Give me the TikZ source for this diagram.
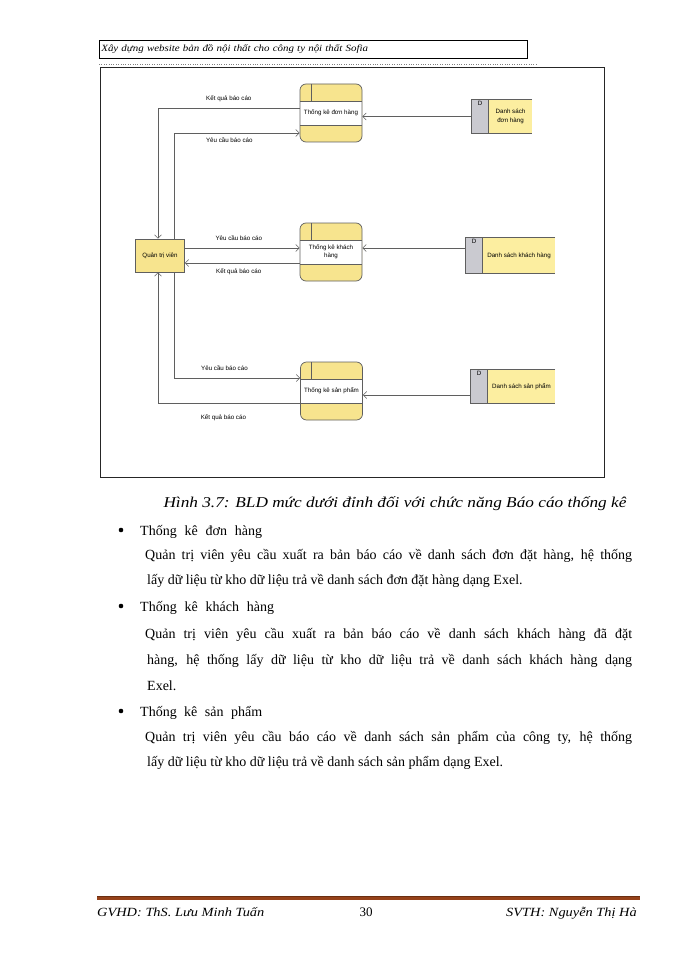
\documentclass[tikz,border=0pt]{standalone}
\usepackage{fontspec}
\setmainfont{Liberation Serif}
\newfontfamily\widefont[FakeStretch=1.15]{Liberation Serif}
\newfontfamily\diagfont{Liberation Sans}
\usetikzlibrary{positioning,arrows.meta}

\definecolor{procfill}{RGB}{247,228,142}
\definecolor{storefill}{RGB}{252,238,160}
\definecolor{tagfill}{RGB}{202,202,208}
\definecolor{linegray}{RGB}{95,95,95}
\definecolor{footbrown}{RGB}{150,66,26}

\begin{document}
\begin{tikzpicture}[x=1pt, y=-1pt,
    dfont/.style={font=\diagfont\fontsize{6.2}{7.5}\selectfont},
    proc/.style={draw=linegray, line width=0.7pt, rounded corners=6pt, fill=procfill,
        minimum width=62pt, minimum height=58pt, inner sep=1pt, align=center, dfont,
        path picture={
            \fill[white, sharp corners] ([yshift=12pt]path picture bounding box.west) rectangle ([yshift=-12pt]path picture bounding box.east);
            \draw[linegray, sharp corners, line width=0.6pt] ([yshift=12pt]path picture bounding box.west) -- ([yshift=12pt]path picture bounding box.east);
            \draw[linegray, sharp corners, line width=0.6pt] ([yshift=-12pt]path picture bounding box.west) -- ([yshift=-12pt]path picture bounding box.east);
            \draw[linegray, sharp corners, line width=0.6pt] ([xshift=11pt]path picture bounding box.north west) -- ([xshift=11pt,yshift=12pt]path picture bounding box.west);
        }},
    entity/.style={draw=linegray, line width=0.6pt, fill=procfill, minimum width=49pt, minimum height=33pt, inner sep=1pt, dfont},
    dstore/.style={fill=storefill, inner sep=1pt, align=center, dfont},
    dtag/.style={fill=tagfill, minimum width=17pt, inner sep=0pt, label={[dfont, anchor=north, inner sep=1.5pt]north:D}},
    storeline/.style={draw=linegray, line width=0.7pt},
    flow/.style={draw=linegray, line width=0.6pt, -{Straight Barb[length=3.5pt,width=7pt]}},
    lbl/.style={dfont, inner sep=1pt},
    txt/.style={anchor=base west, inner sep=0pt, font=\fontsize{14}{16}\selectfont},
    dot/.style={circle, fill=black, inner sep=0pt, minimum size=4.6pt}]

\useasboundingbox (0,0) rectangle (700,960);

\node[draw, line width=0.7pt, anchor=north west, minimum height=18pt, inner sep=2pt, text width=424pt,
    font=\widefont\itshape\fontsize{9.5}{11}\selectfont] (header) at (99,40) {Xây dựng website bản đồ nội thất cho công ty nội thất Sofia};
\draw[gray, dotted] (99,64) -- (537,64);
\draw[black!85, line width=0.8pt] (100,67) rectangle (604,477);

\node[entity] (qtv) at (160,255.5) {Quản trị viên};
\node[proc] (tkdon) at (331,113) {Thống kê đơn hàng};
\node[proc] (tkkhach) at (331,252) {Thống kê khách\\[1pt]hàng};
\node[proc] (tksp) at (331.5,391) {Thống kê sản phẩm};

\node[dstore, minimum width=43pt, minimum height=33pt] (dsdon) at (510.5,116.5) {Danh sách\\[1pt]đơn hàng};
\node[dtag, minimum height=33pt, left=0pt of dsdon] (ddon) {};
\node[dstore, minimum width=72pt, minimum height=35pt] (dskhach) at (519,255.5) {Danh sách khách hàng};
\node[dtag, minimum height=35pt, left=0pt of dskhach] (ddkhach) {};
\node[dstore, minimum width=67pt, minimum height=33pt] (dssp) at (521.5,386.5) {Danh sách sản phẩm};
\node[dtag, minimum height=33pt, left=0pt of dssp] (ddsp) {};
\draw[storeline] (dsdon.north east) -- (ddon.north west) -- (ddon.south west) -- (dsdon.south east);
\draw[storeline] (ddon.north east) -- (ddon.south east);
\draw[storeline] (dskhach.north east) -- (ddkhach.north west) -- (ddkhach.south west) -- (dskhach.south east);
\draw[storeline] (ddkhach.north east) -- (ddkhach.south east);
\draw[storeline] (dssp.north east) -- (ddsp.north west) -- (ddsp.south west) -- (dssp.south east);
\draw[storeline] (ddsp.north east) -- (ddsp.south east);

\coordinate (xk) at (158,0);
\coordinate (xy) at (174,0);
\coordinate (y1) at (0,108);
\coordinate (y2) at (0,133);
\coordinate (y3) at (0,248);
\coordinate (y4) at (0,263);
\coordinate (y5) at (0,378);
\coordinate (y6) at (0,403);
\coordinate (ys2) at (0,395);

\draw[flow] (tkdon.west |- y1) -| node[lbl, above=5pt, pos=0.25] (kq1) {Kết quả báo cáo} (qtv.north -| xk);
\draw[flow] (qtv.north -| xy) |- node[lbl, below=3pt, pos=0.72] (yc1) {Yêu cầu báo cáo} (tkdon.west |- y2);
\draw[flow] (qtv.east |- y3) -- node[lbl, above=6pt, pos=0.47] (yc2) {Yêu cầu báo cáo} (tkkhach.west |- y3);
\draw[flow] (tkkhach.west |- y4) -- node[lbl, below=4pt, pos=0.53] (kq2) {Kết quả báo cáo} (qtv.east |- y4);
\draw[flow] (qtv.south -| xy) |- node[lbl, above=6pt, pos=0.7] (yc3) {Yêu cầu báo cáo} (tksp.west |- y5);
\draw[flow] (tksp.west |- y6) -| node[lbl, below=10pt, pos=0.27] (kq3) {Kết quả báo cáo} (qtv.south -| xk);

\draw[flow] (ddon.west) -- (tkdon.east |- ddon.west);
\draw[flow] (ddkhach.west |- y3) -- (tkkhach.east |- y3);
\draw[flow] (ddsp.west |- ys2) -- (tksp.east |- ys2);

\node[anchor=base, inner sep=0pt, font=\widefont\itshape\fontsize{15}{17}\selectfont] (caption) at (395,507) {Hình 3.7: BLD mức dưới đỉnh đối với chức năng Báo cáo thống kê};

\node[dot] (b1) at (121,530) {};
\node[txt] (h1) at (140,535) {\makebox[122pt][s]{Thống kê đơn hàng}};
\node[txt] (p1) at (145,559) {\makebox[487pt][s]{Quản trị viên yêu cầu xuất ra bản báo cáo về danh sách đơn đặt hàng, hệ thống}};
\node[txt] (p2) at (147,584) {lấy dữ liệu từ kho dữ liệu trả về danh sách đơn đặt hàng dạng Exel.};
\node[dot] (b2) at (121,606) {};
\node[txt] (h2) at (140,611) {\makebox[134pt][s]{Thống kê khách hàng}};
\node[txt] (p3) at (145,638) {\makebox[487pt][s]{Quản trị viên yêu cầu xuất ra bản báo cáo về danh sách khách hàng đã đặt}};
\node[txt] (p4) at (147,664) {\makebox[485pt][s]{hàng, hệ thống lấy dữ liệu từ kho dữ liệu trả về danh sách khách hàng dạng}};
\node[txt] (p5) at (147,690) {Exel.};
\node[dot] (b3) at (121,711) {};
\node[txt] (h3) at (140,716) {\makebox[122pt][s]{Thống kê sản phẩm}};
\node[txt] (p6) at (145,741) {\makebox[487pt][s]{Quản trị viên yêu cầu báo cáo về danh sách sản phẩm của công ty, hệ thống}};
\node[txt] (p7) at (147,766) {lấy dữ liệu từ kho dữ liệu trả về danh sách sản phẩm dạng Exel.};

\draw[footbrown, line width=3pt] (97,898) -- (640,898);
\draw[footbrown!70!black, line width=0.5pt] (97,896.3) -- (640,896.3);
\node[anchor=base west, inner sep=0pt, font=\widefont\itshape\fontsize{12.5}{15}\selectfont] (gvhd) at (97,916) {GVHD: ThS. Lưu Minh Tuấn};
\node[anchor=base, inner sep=0pt, font=\fontsize{13}{15}\selectfont] (page) at (366,916) {30};
\node[anchor=base east, inner sep=0pt, font=\widefont\itshape\fontsize{12.5}{15}\selectfont] (svth) at (637,916) {SVTH: Nguyễn Thị Hà};
\end{tikzpicture}
\end{document}
